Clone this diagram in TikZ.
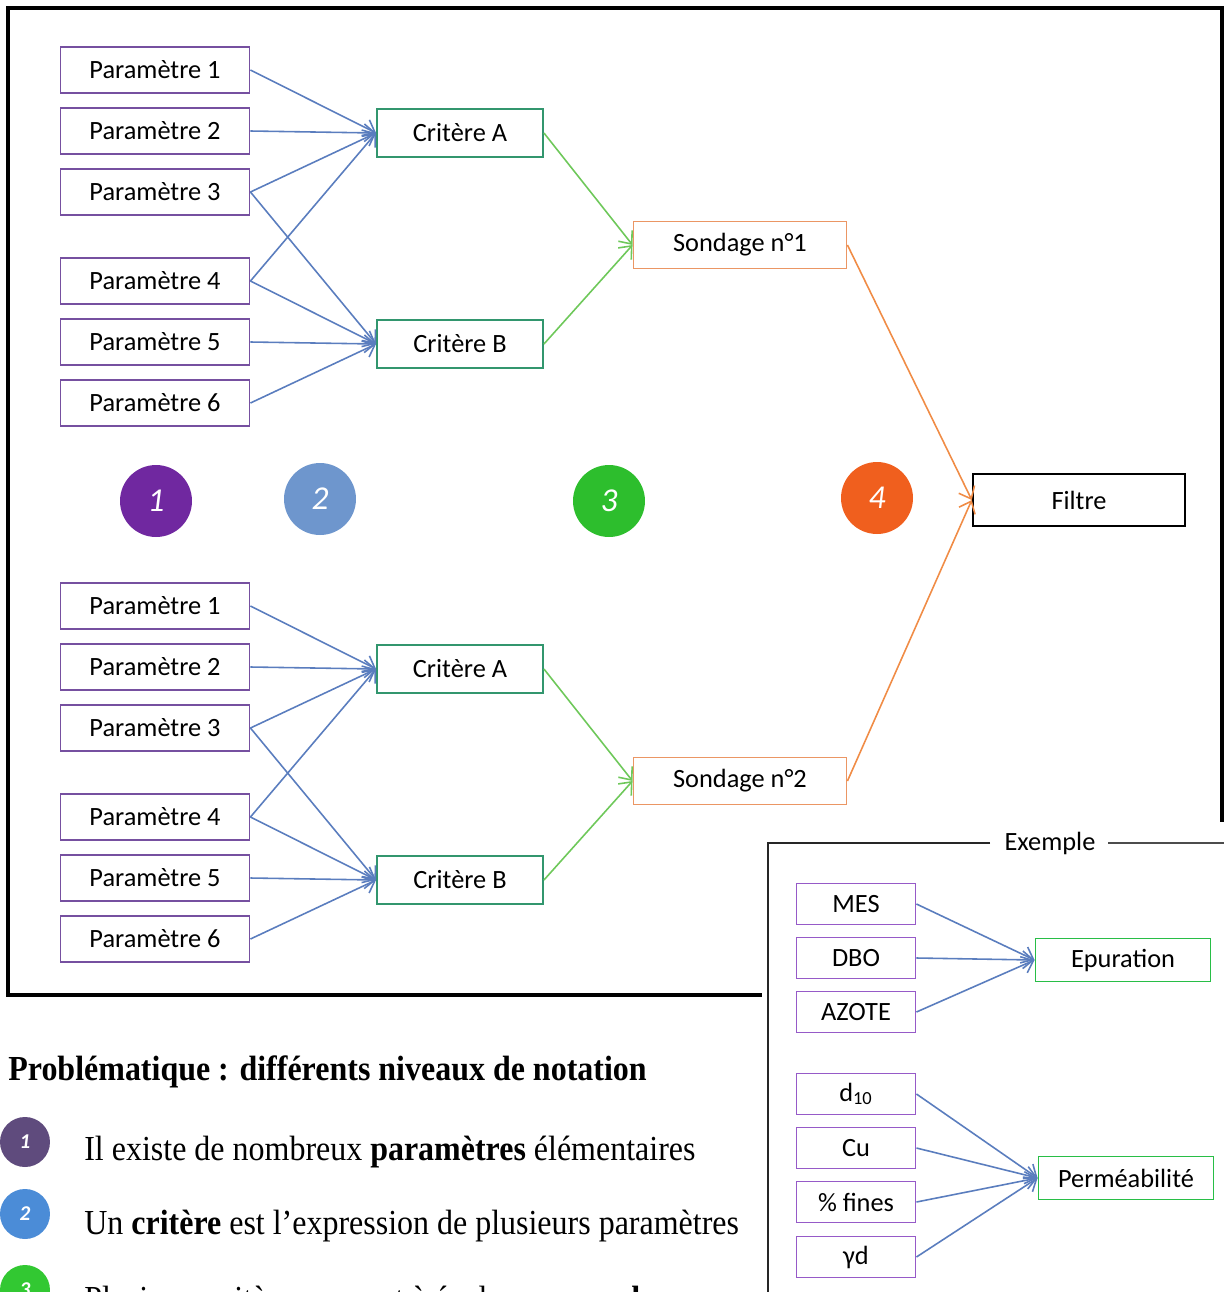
\documentclass[tikz,border=0pt]{standalone}
\usepackage{fontspec}
\setmainfont{Liberation Serif}
\newfontfamily\diagfont{Carlito}
\usetikzlibrary{arrows.meta,positioning}

\definecolor{violetP}{RGB}{118,80,160}
\definecolor{violetEx}{RGB}{150,90,200}
\definecolor{bleuF}{RGB}{90,125,190}
\definecolor{sarcelle}{RGB}{50,150,110}
\definecolor{orangeS}{RGB}{235,150,100}
\definecolor{vertF}{RGB}{110,200,90}
\definecolor{orangeF}{RGB}{240,140,70}
\definecolor{vertEx}{RGB}{40,190,70}
\definecolor{pastA}{RGB}{112,40,160}
\definecolor{pastB}{RGB}{110,150,205}
\definecolor{pastC}{RGB}{45,190,45}
\definecolor{pastD}{RGB}{240,95,30}
\definecolor{puceA}{RGB}{95,75,125}
\definecolor{puceB}{RGB}{75,140,215}
\definecolor{puceC}{RGB}{50,200,50}

\begin{document}
\begin{tikzpicture}[x=0.02cm,y=-0.02cm,
    txt/.style={font=\diagfont\fontsize{15}{17}\selectfont,inner sep=0pt},
    param/.style={txt,draw=violetP,line width=1.1pt,minimum width=3.78cm,minimum height=0.92cm},
    critere/.style={txt,draw=sarcelle,line width=1.1pt,minimum width=3.32cm,minimum height=0.96cm},
    sondage/.style={txt,draw=orangeS,line width=1.1pt,minimum width=4.26cm,minimum height=0.94cm},
    filtre/.style={txt,draw=black,line width=1.4pt,minimum width=4.24cm,minimum height=1.04cm},
    exparam/.style={txt,draw=violetEx,line width=1.1pt,minimum width=2.38cm,minimum height=0.82cm},
    excrit/.style={txt,draw=vertEx,line width=1.1pt,minimum width=3.5cm,minimum height=0.86cm},
    pastille/.style={circle,minimum size=1.44cm,inner sep=0pt,text=white,
      font=\diagfont\itshape\fontsize{19}{19}\selectfont},
    puce/.style={circle,minimum size=1.0cm,inner sep=0pt,text=white,
      font=\diagfont\bfseries\itshape\fontsize{12}{12}\selectfont},
    fleche/.style={-{Straight Barb[length=6pt,width=10pt]},line width=0.9pt},
    ligne/.style={font=\fontsize{20}{22}\selectfont,anchor=base west,inner sep=0pt}]

  % Cadre
  \useasboundingbox (0,0) rectangle (1224,1292);
  \draw[line width=2pt] (8,8) rectangle (1222,995);

  % Deux groupes : parametres -> criteres -> sondage
  \foreach \g/\dy in {1/0,2/536}{
    \foreach \i/\py in {1/70,2/131,3/192,4/281,5/342,6/403}
      \node[param] (p\g-\i) at (155,\py+\dy) {Paramètre \i};
    \node[critere] (ca\g) at (460,133+\dy) {Critère A};
    \node[critere] (cb\g) at (460,344+\dy) {Critère B};
    \node[sondage] (s\g) at (740,245+\dy) {Sondage n°\g};

    \foreach \i in {1,2,3,4}
      \draw[fleche,bleuF] (p\g-\i.east) -- (ca\g.west);
    \foreach \i in {3,4,5,6}
      \draw[fleche,bleuF] (p\g-\i.east) -- (cb\g.west);
    \draw[fleche,vertF] (ca\g.east) -- (s\g.west);
    \draw[fleche,vertF] (cb\g.east) -- (s\g.west);
  }

  \node[filtre] (filtre) at (1079,500) {Filtre};
  \draw[fleche,orangeF] (s1.east) -- (filtre.west);
  \draw[fleche,orangeF] (s2.east) -- (filtre.west);

  % Niveaux
  \node[pastille,fill=pastA] (n1) at (156,501) {1};
  \node[pastille,fill=pastB] (n2) at (320,499) {2};
  \node[pastille,fill=pastC] (n3) at (609,501) {3};
  \node[pastille,fill=pastD] (n4) at (877,498) {4};

  % Exemple
  \fill[white] (762,822) rectangle (1226,1294);
  \draw[line width=0.9pt,black!85] (990,843) -- (768,843) -- (768,1294);
  \draw[line width=0.9pt,black!70] (1108,843) -- (1224,843);
  \node[txt] (exemple) at (1050,843) {Exemple};

  \foreach \nom/\ty/\lab in {mes/904/MES,dbo/958/DBO,azote/1012/AZOTE,
      d/1094/{d\textsubscript{10}},cu/1148/Cu,fines/1202/{\% fines},gd/1257/{γd}}
    \node[exparam] (\nom) at (856,\ty) {\lab};
  \node[excrit] (epur) at (1123,960) {Epuration};
  \node[excrit] (perm) at (1126,1178) {Perméabilité};
  \foreach \nom in {mes,dbo,azote}
    \draw[fleche,bleuF] (\nom.east) -- (epur.west);
  \foreach \nom in {d,cu,fines,gd}
    \draw[fleche,bleuF] (\nom.east) -- (perm.west);

  % Texte
  \node[ligne,font=\bfseries\fontsize{20}{22}\selectfont] (titre) at (8,1080)
    {\scalebox{0.91}[1]{Problématique : différents niveaux de notation}};
  \node[puce,fill=puceA] (b1) at (25,1142) {1};
  \node[puce,fill=puceB] (b2) at (25,1214) {2};
  \node[puce,fill=puceC] (b3) at (25,1290) {3};
  \node[ligne] (l1) at (84,1160)
    {\scalebox{0.91}[1]{Il existe de nombreux \textbf{paramètres} élémentaires}};
  \node[ligne] (l2) at (84,1234)
    {\scalebox{0.91}[1]{Un \textbf{critère} est l’expression de plusieurs paramètres}};
  \node[ligne] (l3) at (84,1310)
    {\scalebox{0.91}[1]{Plusieurs critères servent à évaluer un \textbf{sondage}}};
\end{tikzpicture}
\end{document}
